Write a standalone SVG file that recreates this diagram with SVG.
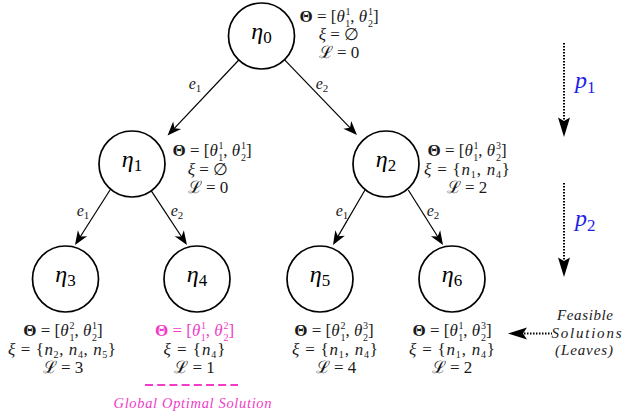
<svg xmlns="http://www.w3.org/2000/svg" width="629" height="416" viewBox="0 0 629 416">
<style>
  .nd circle { fill: #fff; stroke: #000; stroke-width: 1.7; }
  text { font-family: "Liberation Serif", "DejaVu Serif", serif; }
  .nl { font-size: 24px; font-style: italic; text-anchor: middle; fill: #000; }
  .ns { font-size: 17px; font-style: normal; }
  .a { font-size: 17px; text-anchor: middle; fill: #1a1a1a; }
  .i { font-style: italic; }
  .b { font-weight: bold; }
  .sc { font-size: 10px; font-style: normal; }
  .mg { fill: #f03cc8; }
  .el { font-size: 16px; font-style: italic; text-anchor: middle; fill: #1a1a1a; }
  .es { font-size: 11px; font-style: normal; }
  .edge { stroke: #000; stroke-width: 1.2; fill: none; marker-end: url(#ah); }
  .dot { stroke: #000; stroke-width: 2; stroke-dasharray: 1.5 1.5; fill: none; }
  .head { fill: #000; }
  .pl { font-size: 24px; font-style: italic; fill: #1f1fe6; }
  .ps { font-size: 17px; font-style: normal; }
  .fs { font-size: 15px; font-style: italic; text-anchor: middle; fill: #1a1a1a; }
  .gl { font-size: 14.5px; font-style: italic; text-anchor: middle; fill: #f03cc8; }
</style>
<defs>
  <marker id="ah" viewBox="-12 -6 16 12" refX="0" refY="0" markerWidth="16" markerHeight="12" markerUnits="userSpaceOnUse" orient="auto">
    <path d="M3,0 L-11,-5.5 L-7,0 L-11,5.5 Z" fill="#000"/>
  </marker>
</defs>

<g id="connectors">
  <line class="edge" x1="238.8" y1="60" x2="169.6" y2="133.3"/>
  <line class="edge" x1="284.4" y1="59.7" x2="354.9" y2="132.8"/>
  <line class="edge" x1="110.5" y1="189.2" x2="76.6" y2="242.5"/>
  <line class="edge" x1="151.3" y1="190.8" x2="185.3" y2="242.5"/>
  <line class="edge" x1="365" y1="190" x2="334.5" y2="242.4"/>
  <line class="edge" x1="408.3" y1="190" x2="441.4" y2="242.5"/>
  <text class="el" x="195" y="89">e<tspan class="es" dy="3">1</tspan></text>
  <text class="el" x="322" y="89">e<tspan class="es" dy="3">2</tspan></text>
  <text class="el" x="83" y="216">e<tspan class="es" dy="3">1</tspan></text>
  <text class="el" x="177" y="216">e<tspan class="es" dy="3">2</tspan></text>
  <text class="el" x="342" y="216">e<tspan class="es" dy="3">1</tspan></text>
  <text class="el" x="433" y="216">e<tspan class="es" dy="3">2</tspan></text>
</g>

<g id="n0" class="nd">
  <circle cx="261.5" cy="36" r="33"/>
  <text class="nl" x="261.5" y="39">η<tspan class="ns" dy="4">0</tspan></text>
  <text class="a" x="339" y="22"><tspan class="b">Θ</tspan> = [<tspan class="i">θ</tspan><tspan class="sc" dx="0.8" dy="-7">1</tspan><tspan class="sc" dx="-5" dy="12">1</tspan><tspan dy="-5">, </tspan><tspan class="i">θ</tspan><tspan class="sc" dx="0.8" dy="-7">1</tspan><tspan class="sc" dx="-5" dy="12">2</tspan><tspan dy="-5">]</tspan></text>
  <text class="a" x="339" y="40"><tspan class="i">ξ</tspan> = ∅</text>
  <text class="a" x="339" y="58">ℒ = 0</text>
</g>

<g id="n1" class="nd">
  <circle cx="132" cy="164" r="33"/>
  <text class="nl" x="132" y="167">η<tspan class="ns" dy="4">1</tspan></text>
  <text class="a" x="212" y="156"><tspan class="b">Θ</tspan> = [<tspan class="i">θ</tspan><tspan class="sc" dx="0.8" dy="-7">1</tspan><tspan class="sc" dx="-5" dy="12">1</tspan><tspan dy="-5">, </tspan><tspan class="i">θ</tspan><tspan class="sc" dx="0.8" dy="-7">1</tspan><tspan class="sc" dx="-5" dy="12">2</tspan><tspan dy="-5">]</tspan></text>
  <text class="a" x="208" y="174.5"><tspan class="i">ξ</tspan> = ∅</text>
  <text class="a" x="208" y="192.7">ℒ = 0</text>
</g>

<g id="n2" class="nd">
  <circle cx="386" cy="164" r="33"/>
  <text class="nl" x="386" y="167">η<tspan class="ns" dy="4">2</tspan></text>
  <text class="a" x="467" y="156"><tspan class="b">Θ</tspan> = [<tspan class="i">θ</tspan><tspan class="sc" dx="0.8" dy="-7">1</tspan><tspan class="sc" dx="-5" dy="12">1</tspan><tspan dy="-5">, </tspan><tspan class="i">θ</tspan><tspan class="sc" dx="0.8" dy="-7">3</tspan><tspan class="sc" dx="-5" dy="12">2</tspan><tspan dy="-5">]</tspan></text>
  <text class="a" x="467" y="174.5" textLength="86" lengthAdjust="spacing"><tspan class="i">ξ</tspan> = {<tspan class="i">n</tspan><tspan class="sc" dy="3">1</tspan><tspan dy="-3">, </tspan><tspan class="i">n</tspan><tspan class="sc" dy="3">4</tspan><tspan dy="-3">}</tspan></text>
  <text class="a" x="467" y="192.7">ℒ = 2</text>
</g>

<g id="n3" class="nd">
  <circle cx="65.5" cy="279" r="33"/>
  <text class="nl" x="65.5" y="282">η<tspan class="ns" dy="4">3</tspan></text>
  <text class="a" x="63" y="336"><tspan class="b">Θ</tspan> = [<tspan class="i">θ</tspan><tspan class="sc" dx="0.8" dy="-7">2</tspan><tspan class="sc" dx="-5" dy="12">1</tspan><tspan dy="-5">, </tspan><tspan class="i">θ</tspan><tspan class="sc" dx="0.8" dy="-7">1</tspan><tspan class="sc" dx="-5" dy="12">2</tspan><tspan dy="-5">]</tspan></text>
  <text class="a" x="62" y="354.5" textLength="108" lengthAdjust="spacing"><tspan class="i">ξ</tspan> = {<tspan class="i">n</tspan><tspan class="sc" dy="3">2</tspan><tspan dy="-3">, </tspan><tspan class="i">n</tspan><tspan class="sc" dy="3">4</tspan><tspan dy="-3">, </tspan><tspan class="i">n</tspan><tspan class="sc" dy="3">5</tspan><tspan dy="-3">}</tspan></text>
  <text class="a" x="63" y="373">ℒ = 3</text>
</g>

<g id="n4" class="nd">
  <circle cx="197" cy="279" r="33"/>
  <text class="nl" x="197" y="282">η<tspan class="ns" dy="4">4</tspan></text>
  <text class="a mg" x="194.5" y="336"><tspan class="b">Θ</tspan> = [<tspan class="i">θ</tspan><tspan class="sc" dx="0.8" dy="-7">1</tspan><tspan class="sc" dx="-5" dy="12">1</tspan><tspan dy="-5">, </tspan><tspan class="i">θ</tspan><tspan class="sc" dx="0.8" dy="-7">2</tspan><tspan class="sc" dx="-5" dy="12">2</tspan><tspan dy="-5">]</tspan></text>
  <text class="a" x="194.5" y="354.5" textLength="62" lengthAdjust="spacing"><tspan class="i">ξ</tspan> = {<tspan class="i">n</tspan><tspan class="sc" dy="3">4</tspan><tspan dy="-3">}</tspan></text>
  <text class="a" x="194.5" y="373">ℒ = 1</text>
  <line x1="145" y1="385" x2="238" y2="385" stroke="#f03cc8" stroke-width="2" stroke-dasharray="8 4.2"/>
  <text class="gl" x="192.5" y="408" textLength="158" lengthAdjust="spacing">Global Optimal Solution</text>
</g>

<g id="n5" class="nd">
  <circle cx="320" cy="279" r="33"/>
  <text class="nl" x="320" y="282">η<tspan class="ns" dy="4">5</tspan></text>
  <text class="a" x="334" y="336"><tspan class="b">Θ</tspan> = [<tspan class="i">θ</tspan><tspan class="sc" dx="0.8" dy="-7">2</tspan><tspan class="sc" dx="-5" dy="12">1</tspan><tspan dy="-5">, </tspan><tspan class="i">θ</tspan><tspan class="sc" dx="0.8" dy="-7">3</tspan><tspan class="sc" dx="-5" dy="12">2</tspan><tspan dy="-5">]</tspan></text>
  <text class="a" x="335" y="354.5" textLength="86" lengthAdjust="spacing"><tspan class="i">ξ</tspan> = {<tspan class="i">n</tspan><tspan class="sc" dy="3">1</tspan><tspan dy="-3">, </tspan><tspan class="i">n</tspan><tspan class="sc" dy="3">4</tspan><tspan dy="-3">}</tspan></text>
  <text class="a" x="336" y="373">ℒ = 4</text>
</g>

<g id="n6" class="nd">
  <circle cx="452" cy="279" r="33"/>
  <text class="nl" x="452" y="282">η<tspan class="ns" dy="4">6</tspan></text>
  <text class="a" x="452" y="336"><tspan class="b">Θ</tspan> = [<tspan class="i">θ</tspan><tspan class="sc" dx="0.8" dy="-7">1</tspan><tspan class="sc" dx="-5" dy="12">1</tspan><tspan dy="-5">, </tspan><tspan class="i">θ</tspan><tspan class="sc" dx="0.8" dy="-7">3</tspan><tspan class="sc" dx="-5" dy="12">2</tspan><tspan dy="-5">]</tspan></text>
  <text class="a" x="452" y="354.5" textLength="86" lengthAdjust="spacing"><tspan class="i">ξ</tspan> = {<tspan class="i">n</tspan><tspan class="sc" dy="3">1</tspan><tspan dy="-3">, </tspan><tspan class="i">n</tspan><tspan class="sc" dy="3">4</tspan><tspan dy="-3">}</tspan></text>
  <text class="a" x="452" y="373">ℒ = 2</text>
</g>

<g id="legend-feasible">
  <line class="dot" x1="524" y1="333.5" x2="552" y2="333.5"/>
  <path class="head" d="M508,333.5 L527,327.5 L523,333.5 L527,339.5 Z"/>
  <text class="fs" x="585" y="320" textLength="56" lengthAdjust="spacing">Feasible</text>
  <text class="fs" x="586.5" y="337.5" textLength="70" lengthAdjust="spacing">Solutions</text>
  <text class="fs" x="584" y="355" textLength="58" lengthAdjust="spacing">(Leaves)</text>
</g>

<g id="legend-p1">
  <line class="dot" x1="564" y1="43" x2="564" y2="121"/>
  <path class="head" d="M564,137 L558,117.5 L564,121 L570,117.5 Z"/>
  <text class="pl" x="575" y="88">p<tspan class="ps" dy="5">1</tspan></text>
</g>

<g id="legend-p2">
  <line class="dot" x1="564" y1="183" x2="564" y2="261"/>
  <path class="head" d="M564,277 L558,257.5 L564,261 L570,257.5 Z"/>
  <text class="pl" x="575" y="226">p<tspan class="ps" dy="5">2</tspan></text>
</g>
</svg>
